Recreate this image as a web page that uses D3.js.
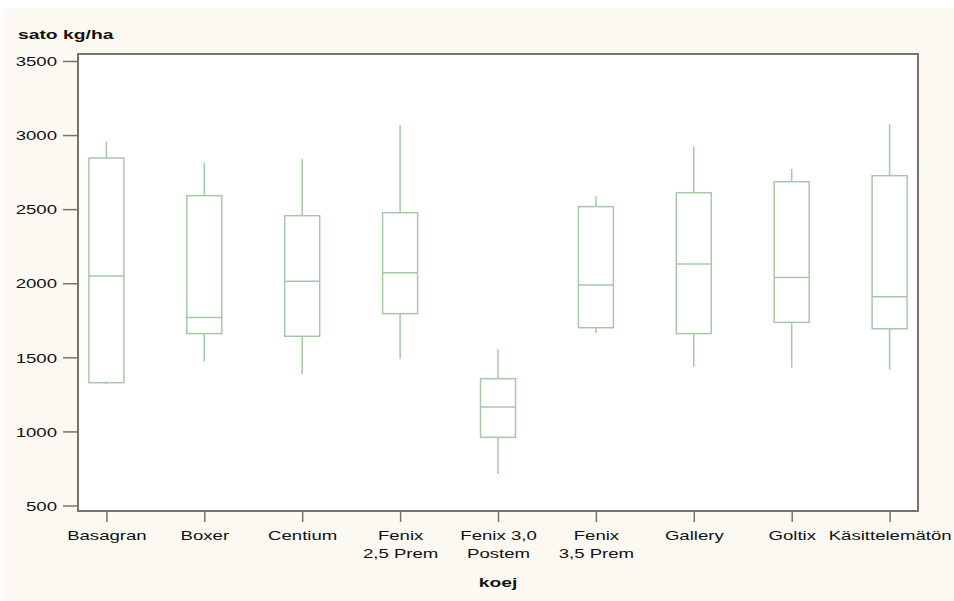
<!DOCTYPE html>
<html>
<head>
<meta charset="utf-8">
<script src="https://cdn.jsdelivr.net/npm/d3@7"></script>
<style>
  body { margin: 0; background: #ffffff; }
  text { font-family: "Liberation Sans", Arial, sans-serif; fill: #111; }
</style>
</head>
<body>
<div id="chart"></div>
<script>
// categories (koej) and box statistics (sato kg/ha)
var categories = ["Basagran", "Boxer", "Centium", "Fenix\n2,5 Prem", "Fenix 3,0\nPostem",
                  "Fenix\n3,5 Prem", "Gallery", "Goltix", "Käsittelemätön"];
var whiskerLow  = [1320, 1471, 1388, 1489,  713, 1664, 1437, 1430, 1415];
var q1          = [1329, 1660, 1642, 1795,  960, 1700, 1660, 1736, 1693];
var median      = [2049, 1768, 2013, 2071, 1165, 1988, 2130, 2038, 1909];
var q3          = [2845, 2591, 2456, 2476, 1356, 2517, 2611, 2685, 2726];
var whiskerHigh = [2955, 2814, 2839, 3068, 1554, 2587, 2924, 2771, 3075];
var yTicks = [500, 1000, 1500, 2000, 2500, 3000, 3500];

var width = 954, height = 601;
var plotLeft = 78, plotRight = 918, plotTop = 54, plotBottom = 511;
var stretch = 1.43;   // text in the original is drawn wide
var boxW = 35;
var boxColor = "#a6c8a6";
var frameColor = "#77736a";

var data = categories.map(function(c, i) {
    return {name: c, lo: whiskerLow[i], q1: q1[i], med: median[i], q3: q3[i], hi: whiskerHigh[i]};
});

var svg = d3.select("#chart").append("svg")
    .attr("width", width)
    .attr("height", height);

// cream page background
svg.append("rect")
    .attr("x", 5).attr("y", 8)
    .attr("width", width - 5).attr("height", height - 8)
    .attr("fill", "#fcf9f2");

// white plot area
svg.append("rect")
    .attr("x", plotLeft).attr("y", plotTop)
    .attr("width", plotRight - plotLeft).attr("height", plotBottom - plotTop)
    .attr("fill", "#ffffff");

var x = d3.scalePoint()
    .domain(categories)
    .range([plotLeft, plotRight])
    .padding(0.29);

var y = d3.scaleLinear()
    .domain([463, 3547])
    .range([plotBottom, plotTop]);

// y axis
var yAxis = svg.append("g")
    .attr("transform", `translate(${plotLeft},0)`)
    .call(d3.axisLeft(y).tickValues(yTicks).tickSize(15).tickFormat(d3.format("d")));
yAxis.select(".domain").remove();
yAxis.selectAll(".tick line").attr("stroke", frameColor).attr("stroke-width", 1.5);
yAxis.selectAll(".tick text")
    .attr("x", -21 / stretch)
    .attr("dy", "0.36em")
    .attr("transform", `scale(${stretch},1)`)
    .style("font-size", "13px")
    .style("font-family", "'Liberation Sans', Arial, sans-serif")
    .attr("fill", "#111");

// x axis
var xAxis = svg.append("g")
    .attr("transform", `translate(0,${plotBottom})`)
    .call(d3.axisBottom(x).tickSize(11).tickFormat(""));
xAxis.select(".domain").remove();
xAxis.selectAll(".tick line").attr("stroke", frameColor).attr("stroke-width", 1.5);
xAxis.selectAll(".tick").each(function(d) {
    var t = d3.select(this).append("text")
        .attr("text-anchor", "middle")
        .attr("transform", `scale(${stretch},1)`)
        .style("font-size", "13px")
        .attr("fill", "#111");
    d.split("\n").forEach(function(line, i) {
        t.append("tspan")
            .attr("x", 0)
            .attr("y", 29 + i * 18)
            .text(line);
    });
});

// boxes
var boxes = svg.append("g").selectAll("g.box").data(data).enter()
    .append("g").attr("class", "box");

boxes.append("line")
    .attr("x1", function(d) { return x(d.name); })
    .attr("x2", function(d) { return x(d.name); })
    .attr("y1", function(d) { return y(d.hi); })
    .attr("y2", function(d) { return y(d.q3); })
    .attr("stroke", boxColor).attr("stroke-width", 1.5);

boxes.append("line")
    .attr("x1", function(d) { return x(d.name); })
    .attr("x2", function(d) { return x(d.name); })
    .attr("y1", function(d) { return y(d.q1); })
    .attr("y2", function(d) { return y(d.lo); })
    .attr("stroke", boxColor).attr("stroke-width", 1.5);

boxes.append("rect")
    .attr("x", function(d) { return x(d.name) - boxW / 2; })
    .attr("y", function(d) { return y(d.q3); })
    .attr("width", boxW)
    .attr("height", function(d) { return y(d.q1) - y(d.q3); })
    .attr("fill", "none")
    .attr("stroke", boxColor).attr("stroke-width", 1.5);

boxes.append("line")
    .attr("x1", function(d) { return x(d.name) - boxW / 2; })
    .attr("x2", function(d) { return x(d.name) + boxW / 2; })
    .attr("y1", function(d) { return y(d.med); })
    .attr("y2", function(d) { return y(d.med); })
    .attr("stroke", boxColor).attr("stroke-width", 1.5);

// plot frame
svg.append("rect")
    .attr("x", plotLeft).attr("y", plotTop)
    .attr("width", plotRight - plotLeft).attr("height", plotBottom - plotTop)
    .attr("fill", "none")
    .attr("stroke", frameColor)
    .attr("stroke-width", 2);

// axis titles
svg.append("text")
    .attr("transform", `translate(18,39) scale(${stretch},1)`)
    .style("font-size", "13.5px")
    .style("font-weight", "bold")
    .text("sato kg/ha");

svg.append("text")
    .attr("transform", `translate(${(plotLeft + plotRight) / 2},587) scale(${stretch},1)`)
    .attr("text-anchor", "middle")
    .style("font-size", "13.5px")
    .style("font-weight", "bold")
    .text("koej");
</script>
</body>
</html>
